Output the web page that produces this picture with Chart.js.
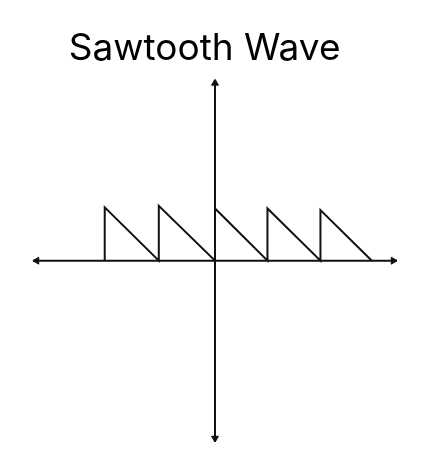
<!DOCTYPE html>
<html>
<head>
<meta charset="utf-8">
<script src="https://cdn.jsdelivr.net/npm/chart.js@4.4.0/dist/chart.umd.min.js"></script>
<style>
    html, body { margin: 0; padding: 0; background: #fff; }
    #wrap { width: 430px; height: 462px; }
</style>
</head>
<body>
<div id="wrap"><canvas id="sawChart"></canvas></div>
<script>
// sawtooth: jump up at each tooth start, then fall back to zero
const toothX = [-2.06, -1.05, 0, 0.98, 1.97, 2.93];
const toothPeak = [1.0, 1.03, 0.98, 0.98, 0.95];

// axis extents (same units both ways)
const axisMin = -3.4;
const axisMax = 3.4;

function sawPoints() {
    const pts = [];
    for (let i = 0; i < toothPeak.length; i++) {
        pts.push({ x: toothX[i], y: 0 });
        pts.push({ x: toothX[i], y: toothPeak[i] });
        pts.push({ x: toothX[i + 1], y: 0 });
    }
    return pts;
}

const arrowInset = 0.07;

const ctx = document.getElementById('sawChart').getContext('2d');
new Chart(ctx, {
    type: 'scatter',
    data: {
        datasets: [
            {
                // x axis
                data: [{ x: axisMin, y: 0 }, { x: axisMax, y: 0 }],
                showLine: true,
                borderColor: '#111',
                borderWidth: 2,
                pointRadius: 0
            },
            {
                // y axis
                data: [{ x: 0, y: axisMin }, { x: 0, y: axisMax }],
                showLine: true,
                borderColor: '#111',
                borderWidth: 2,
                pointRadius: 0
            },
            {
                // arrow heads
                data: [
                    { x: axisMin + arrowInset, y: 0 },
                    { x: axisMax - arrowInset, y: 0 },
                    { x: 0, y: axisMax - arrowInset },
                    { x: 0, y: axisMin + arrowInset }
                ],
                showLine: false,
                pointStyle: 'triangle',
                pointRotation: [270, 90, 0, 180],
                pointRadius: 4,
                backgroundColor: '#111',
                borderColor: '#111',
                borderWidth: 1
            },
            {
                data: sawPoints(),
                showLine: true,
                borderColor: '#111',
                borderWidth: 2,
                pointRadius: 0,
                tension: 0
            }
        ]
    },
    options: {
        responsive: true,
        maintainAspectRatio: false,
        animation: false,
        layout: {
            padding: { top: 0, left: 33, right: 33, bottom: 20 }
        },
        plugins: {
            legend: { display: false },
            tooltip: { enabled: false },
            title: {
                display: true,
                // trailing spaces nudge the centred title a bit left, as in the original
                text: 'Sawtooth Wave  ',
                color: '#000',
                font: { family: 'Inter', size: 37, weight: 'normal' },
                padding: { top: 27, bottom: 8 }
            }
        },
        scales: {
            x: { type: 'linear', min: axisMin, max: axisMax, display: false },
            y: { type: 'linear', min: axisMin, max: axisMax, display: false }
        }
    }
});
</script>
</body>
</html>
